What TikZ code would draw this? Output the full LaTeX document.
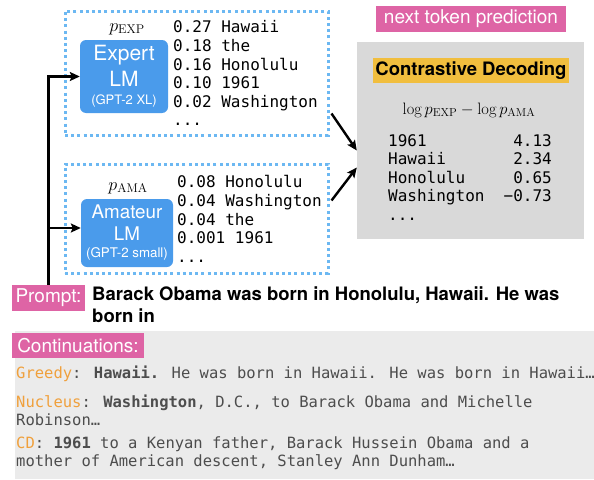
\documentclass[tikz,border=0pt]{standalone}
\usepackage{fix-cm}
\usepackage{fontspec}
\usepackage{xcolor}
\usepackage{tikz}
\usetikzlibrary{positioning,calc,arrows.meta}

\newfontfamily\helv{TeX Gyre Heros}
\newfontfamily\mono{DejaVu Sans Mono}

\definecolor{lmblue}{HTML}{4A9BEB}
\definecolor{dotblue}{HTML}{6CB8F2}
\definecolor{tagpink}{HTML}{DE64A5}
\definecolor{cdgrey}{HTML}{D9D9D9}
\definecolor{contgrey}{HTML}{EBEBEB}
\definecolor{cdyellow}{HTML}{F1BE3E}
\definecolor{methodorange}{HTML}{F0A03C}
\definecolor{textgrey}{HTML}{4D4D4D}

\tikzset{
  lmbox/.style={fill=lmblue,rounded corners=6pt,text=white,align=center,inner sep=0pt},
  dotbox/.style={draw=dotblue,line width=3pt,dash pattern=on 3pt off 3.2pt,inner sep=0pt},
  tag/.style={fill=tagpink,text=white,inner sep=0pt,font=\helv\fontsize{19}{22}\selectfont},
  problist/.style={anchor=north west,inner sep=0pt,align=left,font=\mono\fontsize{16}{18.6}\selectfont},
  tabtxt/.style={inner sep=0pt,font=\mono\fontsize{16}{18.6}\selectfont},
  arr/.style={-{Stealth[length=10pt,width=9pt,inset=2pt]},line width=2.4pt},
  cont/.style={anchor=base west,inner sep=0pt,text=textgrey,font=\mono\fontsize{15.5}{18.6}\selectfont},
}

\begin{document}
\begin{tikzpicture}[x=1pt,y=-1pt]
  \useasboundingbox (0,0) rectangle (594,479);

  % expert / amateur
  \node[dotbox,minimum width=263pt,minimum height=124pt] (expbox) at (196.5,73) {};
  \node[dotbox,minimum width=263pt,minimum height=109pt] (amabox) at (196.5,218.5) {};

  \node[lmbox,minimum width=88pt,minimum height=73pt,font=\helv\fontsize{21}{25.5}\selectfont] (expert) at (124,76.5)
    {Expert\\LM\\[-7pt]{\fontsize{13}{15}\selectfont (GPT-2 XL)}};
  \node[lmbox,minimum width=92pt,minimum height=68pt,font=\helv\fontsize{18.8}{22}\selectfont] (amateur) at (127,233)
    {Amateur\\LM\\[-5pt]{\fontsize{13.3}{15}\selectfont (GPT-2 small)}};

  \node[inner sep=0pt,font=\fontsize{18}{20}\selectfont] (pexp) at (127,29) {$p_{\mathrm{EXP}}$};
  \node[inner sep=0pt,font=\fontsize{18}{20}\selectfont] (pama) at (128,188) {$p_{\mathrm{AMA}}$};

  \node[problist] (explist) at (173,20.5)
    {0.27 Hawaii\\0.18 the\\0.16 Honolulu\\0.10 1961\\0.02 Washington\\...};
  \node[problist] (amalist) at (177,175.5)
    {0.08 Honolulu\\0.04 Washington\\0.04 the\\0.001 1961\\...};

  % prompt
  \node[tag,minimum width=73pt,minimum height=26pt] (prompt) at (48.5,298) {Prompt:};
  \node[anchor=north west,inner sep=0pt,align=left,font=\helv\bfseries\fontsize{18.5}{22}\selectfont] (prompttxt) at (92,286.5)
    {Barack Obama was born in Honolulu, Hawaii. He was\\born in};

  \coordinate (amain) at ($(amateur.west)+(0,-5)$);
  \draw[arr] (prompt.north) |- (expert.west);
  \draw[arr] (prompt.north |- amain) -- (amain);

  % contrastive decoding
  \node[tag,minimum width=190pt,minimum height=26pt] (nexttok) at (471,19) {next token prediction};
  \node[fill=cdgrey,minimum width=227pt,minimum height=197pt,inner sep=0pt] (cdbox) at (470.5,140.5) {};
  \node[fill=cdyellow,minimum width=196pt,minimum height=25pt,inner sep=0pt,font=\helv\bfseries\fontsize{18.5}{22}\selectfont] (cdtitle) at (471,70.5) {Contrastive Decoding};
  \node[inner sep=0pt,font=\fontsize{16.5}{20}\selectfont] (formula) at (469,110) {$\log p_{\mathrm{EXP}}-\log p_{\mathrm{AMA}}$};

  \foreach \tok/\val [count=\i] in {1961/4.13,Hawaii/2.34,Honolulu/0.65,Washington/−0.73}
  {
    \node[tabtxt,anchor=base west] (tok\i) at (388,128+18.4*\i) {\tok};
    \node[tabtxt,anchor=base east] (val\i) at (552,128+18.4*\i) {\val};
  }
  \node[tabtxt,anchor=base west] (tokdots) at (388,220) {...};

  \draw[arr] ($(expbox.south east)+(2,-23)$) -- ($(cdbox.west)+(0,10)$);
  \draw[arr] ($(amabox.north east)+(2,38)$) -- ($(cdbox.west)+(0,27)$);

  % continuations
  \fill[contgrey] (15,331) rectangle (594,479);
  \node[tag,minimum width=132pt,minimum height=25pt] (conttag) at (78,345.5) {Continuations:};

  \node[cont] (greedy) at (16,378) {\textcolor{methodorange}{Greedy}: \textbf{Hawaii.} He was born in Hawaii. He was born in Hawaii…};
  \node[cont] (nucleus) at (16,407) {\textcolor{methodorange}{Nucleus}: \textbf{Washington}, D.C., to Barack Obama and Michelle};
  \node[cont] (nucleusb) at (16,425.5) {Robinson…};
  \node[cont] (cd) at (16,448) {\textcolor{methodorange}{CD}: \textbf{1961} to a Kenyan father, Barack Hussein Obama and a};
  \node[cont] (cdb) at (16,466.5) {mother of American descent, Stanley Ann Dunham…};
\end{tikzpicture}
\end{document}
